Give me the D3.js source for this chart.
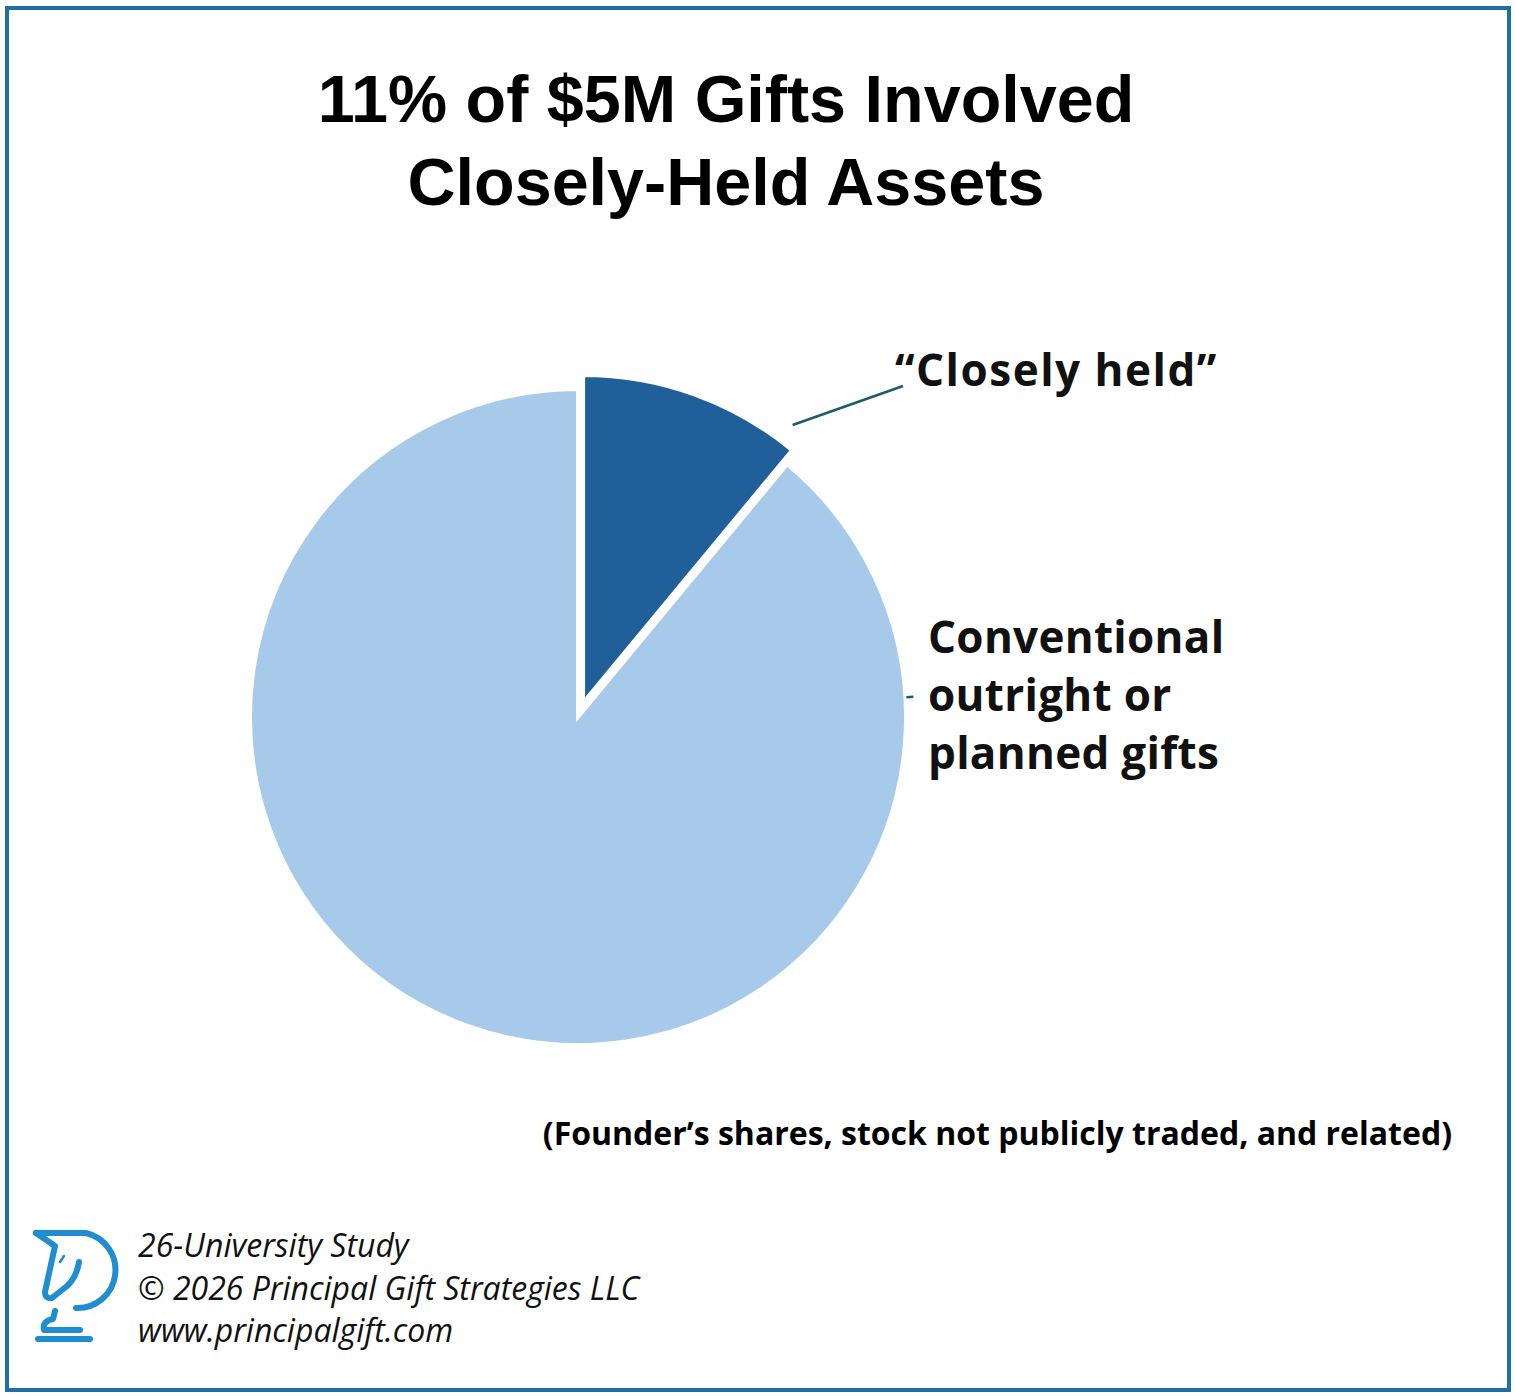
<!DOCTYPE html>
<html>
<head>
<meta charset="utf-8">
<script src="https://cdn.jsdelivr.net/npm/d3@7"></script>
<style>
  body { margin: 0; background: #fff; }
  svg { display: block; }
</style>
</head>
<body>
<svg id="chart" width="1515" height="1396"></svg>
<script>
// data
const categories = ["Closely held", "Conventional"];
const shares = [11, 89];
const labelLines = [["\u201cClosely held\u201d"], ["Conventional", "outright or", "planned gifts"]];
const sliceColors = ["#215f9a", "#a7c9ea"];
const titleLines = ["11% of $5M Gifts Involved", "Closely-Held Assets"];
const footnote = "(Founder\u2019s shares, stock not publicly traded, and related)";
const footerLines = ["26-University Study", "\u00a9 2026 Principal Gift Strategies LLC", "www.principalgift.com"];

const svg = d3.select("#chart")

svg.append("rect")
    .attr("x", 7).attr("y", 8)
    .attr("width", 1502).attr("height", 1382)
    .attr("fill", "#fff")
    .attr("stroke", "#1f6ea6")
    .attr("stroke-width", 4)

// title
svg.selectAll("text.title")
    .data(titleLines)
    .join("text")
    .attr("class", "title")
    .attr("x", 726)
    .attr("y", (d, i) => 122 + i * 83)
    .attr("text-anchor", "middle")
    .attr("font-family", "Liberation Sans, Arial, sans-serif")
    .attr("font-weight", "bold")
    .attr("font-size", 66.5)
    .attr("fill", "#000")
    .text(d => d)

// pie
const cx = 578, cy = 717, r = 328
const explode = [15, 0]
const pie = d3.pie().sort(null).value(d => d)
const arcs = pie(shares)
const arc = d3.arc().innerRadius(0).outerRadius(r)

const g = svg.append("g").attr("transform", `translate(${cx},${cy})`)

g.selectAll("path.slice")
    .data(arcs)
    .join("path")
    .attr("class", "slice")
    .attr("transform", (d, i) => {
        const a = (d.startAngle + d.endAngle) / 2
        return `translate(${Math.sin(a) * explode[i]},${-Math.cos(a) * explode[i]})`
    })
    .attr("d", arc)
    .attr("fill", (d, i) => sliceColors[i])
    .attr("stroke", "#fff")
    .attr("stroke-width", 4)
    .attr("stroke-linejoin", "miter")

// leader lines
const polar = (a, rad, off) => [Math.sin(a) * rad + Math.sin(off.a) * off.d, -Math.cos(a) * rad - Math.cos(off.a) * off.d]
const d0 = arcs[0]
const mid0 = (d0.startAngle + d0.endAngle) / 2
const p0 = polar(d0.endAngle - 0.045, r + 20, { a: mid0, d: explode[0] })
g.append("line")
    .attr("x1", p0[0]).attr("y1", p0[1])
    .attr("x2", 903 - cx).attr("y2", 386 - cy)
    .attr("stroke", "#1d5a6e")
    .attr("stroke-width", 2.5)

const a1 = Math.PI / 2 - 0.06
const q0 = polar(a1, r + 1, { a: 0, d: 0 })
const q1 = polar(a1, r + 8, { a: 0, d: 0 })
g.append("line")
    .attr("x1", q0[0]).attr("y1", q0[1])
    .attr("x2", q1[0]).attr("y2", q1[1])
    .attr("stroke", "#1d5a6e")
    .attr("stroke-width", 2.5)

// labels
const labelPos = [[895, 386], [928, 653]]
const labelSpacing = [1.5, 0.3]
labelLines.forEach((lines, i) => {
    svg.append("text")
        .attr("x", labelPos[i][0])
        .attr("y", labelPos[i][1])
        .attr("font-family", "Open Sans, sans-serif")
        .attr("font-weight", "bold")
        .attr("font-size", 44)
        .attr("letter-spacing", labelSpacing[i])
        .attr("fill", "#111")
        .selectAll("tspan")
        .data(lines)
        .join("tspan")
        .attr("x", labelPos[i][0])
        .attr("dy", (d, j) => j === 0 ? 0 : 58)
        .text(d => d)
})

svg.append("text")
    .attr("x", 1452).attr("y", 1145)
    .attr("text-anchor", "end")
    .attr("font-family", "Open Sans, sans-serif")
    .attr("font-weight", "bold")
    .attr("font-size", 32)
    .attr("fill", "#000")
    .text(footnote)

// footer
svg.selectAll("text.footer")
    .data(footerLines)
    .join("text")
    .attr("class", "footer")
    .attr("x", 138)
    .attr("y", (d, i) => 1257 + i * 42.5)
    .attr("font-family", "Open Sans, sans-serif")
    .attr("font-style", "italic")
    .attr("font-size", 32)
    .attr("fill", "#111")
    .text(d => d)

// logo
const logo = svg.append("g")
    .attr("fill", "none")
    .attr("stroke", "#1e8ed0")
    .attr("stroke-width", 6)
    .attr("stroke-linecap", "round")
    .attr("stroke-linejoin", "round")
logo.append("path")
    .attr("d", "M36,1233 L86,1233 A38,38 0 0 1 76,1308")
logo.append("path")
    .attr("d", "M36,1233 L55,1246 L45,1292 Q45,1299 52,1298 L62,1290 Q76,1281 79,1262")
logo.append("path")
    .attr("d", "M55,1311 L53,1319 Q42,1321 44,1330 L80,1330")
logo.append("path")
    .attr("d", "M60,1262 L64,1256")
    .attr("stroke-width", 2.5)
logo.append("rect")
    .attr("x", 35).attr("y", 1336)
    .attr("width", 58).attr("height", 6)
    .attr("rx", 3)
    .attr("fill", "#1e8ed0")
    .attr("stroke", "none")
</script>
</body>
</html>
